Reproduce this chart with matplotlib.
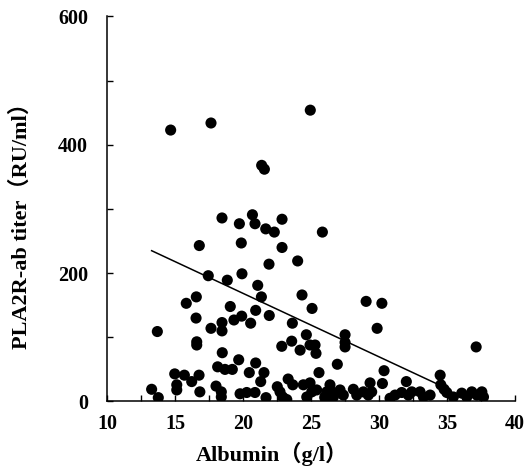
import numpy as np
import matplotlib
matplotlib.use("Agg")
import matplotlib.pyplot as plt

# albumin (g/l) vs PLA2R-ab titer (RU/ml)
albumin = [
    14.65, 17.62, 24.93, 21.35, 21.55, 18.43, 19.71, 20.67, 20.86, 21.65,
    22.28, 22.85, 25.82, 16.76, 19.85, 22.85, 21.89, 24.00, 17.42, 18.82,
    19.90, 21.06, 21.33, 24.32, 25.06, 15.80, 16.54, 19.04, 16.52, 17.62,
    18.43, 18.43, 19.31, 19.88, 20.91, 20.54, 21.91, 23.61, 13.67, 16.57,
    16.57, 22.83, 23.56, 24.64, 24.18, 24.91, 25.28, 25.35, 18.45, 19.66,
    20.91, 18.11, 18.65, 19.19, 20.44, 21.52, 21.28, 14.95, 15.66, 16.20,
    16.74, 13.25, 13.74, 15.10, 15.10, 16.80, 17.99, 18.38, 18.38, 19.76,
    20.25, 20.86, 21.67, 22.50, 22.70, 22.90, 23.20, 23.30, 23.64, 24.42,
    24.91, 25.04, 25.40, 24.67, 25.57, 26.00, 26.92, 29.04, 30.20, 29.85,
    27.49, 27.49, 27.49, 30.36, 30.24, 29.33, 32.00, 34.49, 34.54, 34.78,
    34.98, 37.14, 26.38, 26.14, 26.51, 26.02, 26.38, 26.63, 27.12, 27.36,
    28.10, 28.35, 28.84, 29.20, 29.45, 30.80, 31.17, 31.66, 32.15, 32.40,
    33.01, 33.26, 33.75, 35.46, 36.08, 36.45, 36.82, 37.19, 37.56, 37.68,
]
titer = [
    423, 434, 454, 368, 362, 286, 277, 291, 277, 269,
    264, 284, 264, 243, 247, 240, 214, 219, 196, 189,
    199, 181, 163, 166, 145, 153, 163, 148, 130, 114,
    123, 110, 127, 133, 142, 122, 134, 122, 109, 93,
    88, 86, 94, 104, 80, 88, 88, 75, 76, 65,
    60, 54, 50, 50, 45, 45, 31, 43, 41, 31,
    41, 19, 6, 26, 18, 15, 24, 15, 7, 12,
    14, 14, 6, 23, 15, 7, 3, 35, 26, 26,
    29, 15, 18, 7, 45, 7, 58, 156, 153, 114,
    104, 92, 85, 48, 28, 29, 31, 41, 26, 19,
    14, 85, 26, 15, 15, 5, 2, 7, 18, 10,
    19, 10, 15, 10, 15, 5, 10, 14, 10, 15,
    15, 7, 10, 7, 13, 7, 15, 10, 15, 7,
]

# trend line end points
line_x = [13.25, 34.2]
line_y = [235, 28]

plt.rcParams["font.family"] = ["Liberation Serif", "Noto Sans CJK SC"]
plt.rcParams["font.weight"] = "bold"

fig = plt.figure(figsize=(5.30, 4.71), dpi=100)
ax = fig.add_axes([0.2028, 0.1476, 0.7689, 0.8174])

ax.scatter(albumin, titer, s=64, color="black", edgecolors="none", zorder=3)
ax.plot(line_x, line_y, color="black", linewidth=1.1, zorder=2)

ax.set_xlim(10, 40)
ax.set_ylim(0, 600)
ax.set_xticks(np.arange(10, 41, 5))
ax.set_xticks(np.arange(12.5, 40, 5), minor=True)
ax.set_yticks([0, 200, 400, 600])
ax.set_yticks([100, 300, 500], minor=True)

for side in ["top", "right"]:
    ax.spines[side].set_visible(False)
for side in ["left", "bottom"]:
    ax.spines[side].set_linewidth(1.1)

ax.tick_params(axis="both", which="both", direction="in", length=4, width=1.0,
               labelsize=14.5)
ax.tick_params(axis="y", which="major", pad=14)
ax.tick_params(axis="x", which="major", pad=9)
ax.tick_params(axis="both", which="minor", labelleft=False, labelbottom=False)
for lab in ax.get_xticklabels() + ax.get_yticklabels():
    lab.set_fontweight("bold")

ax.set_xlabel("Albumin（g/l）", fontsize=16, fontweight="bold")
ax.set_ylabel("PLA2R-ab titer（RU/ml）", fontsize=16, fontweight="bold")
ax.xaxis.set_label_coords(0.404, -0.105)
ax.yaxis.set_label_coords(-0.185, 0.469)

fig.savefig("out.png", dpi=100)
